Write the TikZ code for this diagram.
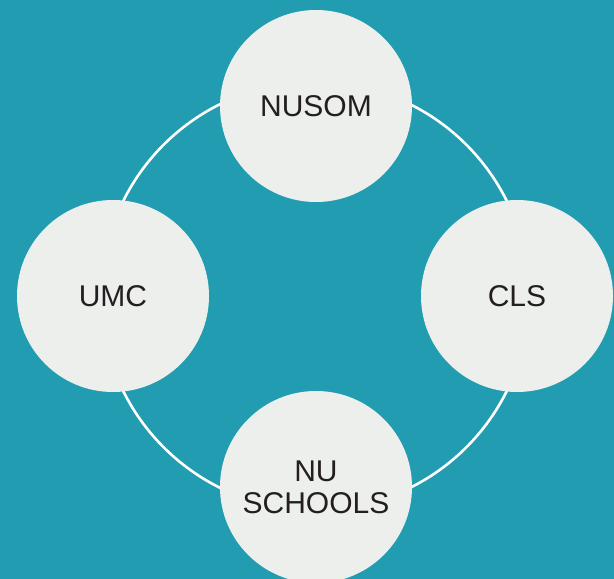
\documentclass[tikz,border=0pt]{standalone}
\usepackage{fontspec}
\setmainfont{Liberation Sans}
\usepackage{tikz}

\definecolor{teal}{HTML}{219CB0}
\definecolor{pale}{HTML}{EDEFED}
\definecolor{ink}{HTML}{231F20}

\tikzset{
  unit/.style={circle, fill=pale, minimum size=192pt, inner sep=0pt,
    text=ink, font=\fontsize{30}{32}\selectfont, align=center},
}

\begin{document}
\begin{tikzpicture}[x=1pt, y=-1pt]
    \fill [teal] (0, 0) rectangle (614, 579);
    \useasboundingbox (0, 0) rectangle (614, 579);
    \coordinate (hub) at (315, 296);
    \draw [white, line width=2.6pt] (hub) circle [radius=214];
    \node [unit] (nusom) at (316, 106) {NUSOM};
    \node [unit] (umc) at (113, 296) {UMC};
    \node [unit] (cls) at (517, 296) {CLS};
    \node [unit] (schools) at (316, 487) {NU\\SCHOOLS};
  \end{tikzpicture}
\end{document}
